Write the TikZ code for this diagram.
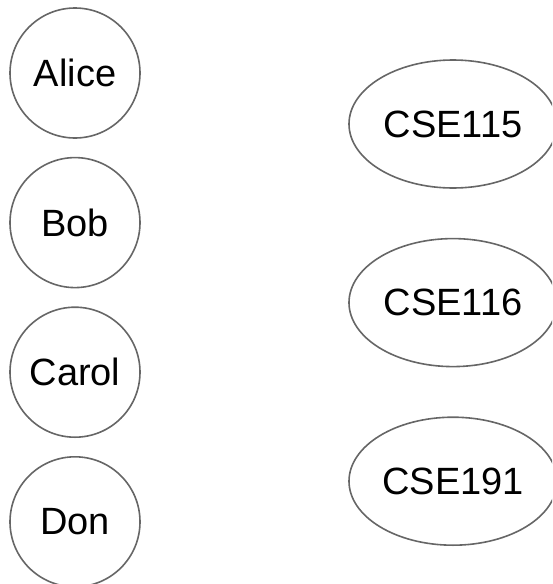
\documentclass[tikz,border=0pt]{standalone}
\usepackage{fontspec}
\setmainfont{Liberation Sans}
\usetikzlibrary{positioning, shapes.geometric}

\begin{document}
\begin{tikzpicture}[x=1pt, y=1pt, node distance=18pt,
  every node/.style={font=\fontsize{38}{45}\selectfont},
  person/.style={draw=black!60, line width=1.6pt, circle, minimum size=130pt, inner sep=0pt},
  course/.style={draw=black!60, line width=1.6pt, ellipse, minimum width=208pt, minimum height=128pt, inner sep=0pt}]
  \clip (0,0) rectangle (552,-584);
  \node[person] (alice) at (75,-73) {Alice};
  \node[person, below=of alice] (bob) {Bob};
  \node[person, below=of bob] (carol) {Carol};
  \node[person, below=of carol] (don) {Don};

  \node[course] (cse115) at (453,-124) {CSE115};
  \node[course, below=49pt of cse115] (cse116) {CSE116};
  \node[course, below=49pt of cse116] (cse191) {CSE191};
\end{tikzpicture}
\end{document}
